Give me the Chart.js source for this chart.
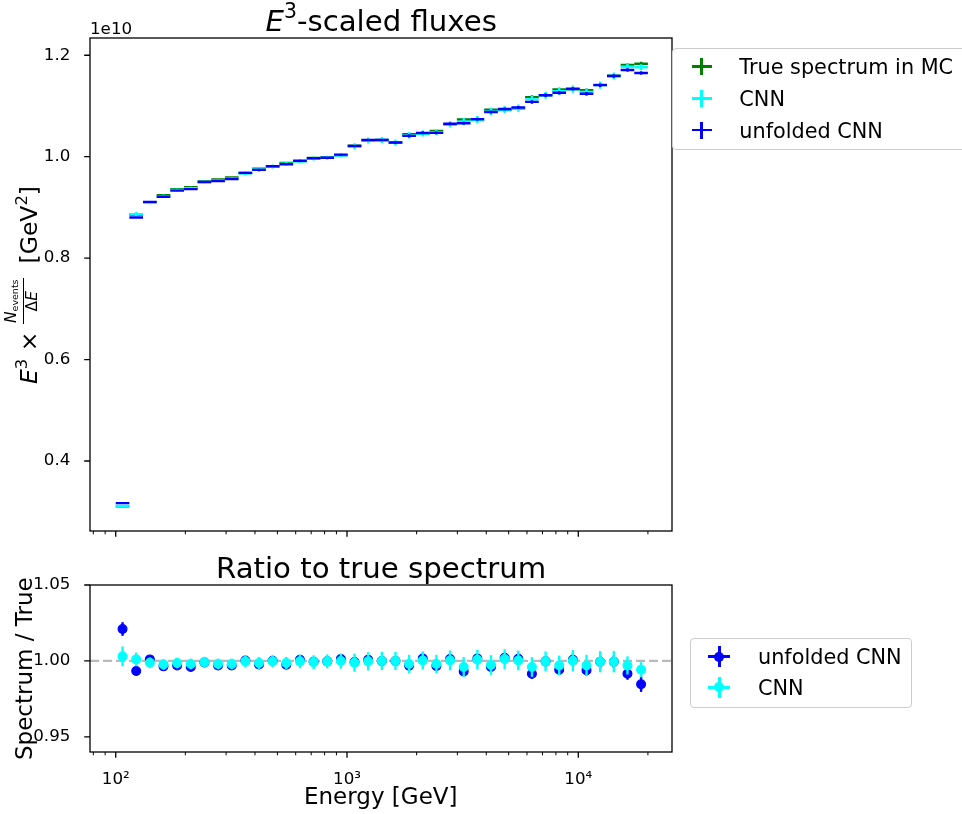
<!DOCTYPE html>
<html>
<head>
<meta charset="utf-8">
<script src="https://cdn.jsdelivr.net/npm/chart.js@4.4.1/dist/chart.umd.min.js"></script>
<style>
html,body{margin:0;padding:0;background:#fff;overflow:hidden;}
#wrap{position:relative;width:962px;height:814px;overflow:hidden;font-family:"DejaVu Sans",sans-serif;color:#000;}
canvas{position:absolute;left:0;}
.txt{position:absolute;white-space:nowrap;line-height:1;z-index:5;}
.legend{position:absolute;background:rgba(255,255,255,0.8);border:1px solid #cccccc;border-radius:4px;box-sizing:border-box;z-index:4;}
.bar{position:absolute;z-index:6;}
.dot{position:absolute;border-radius:50%;z-index:7;}
.frac{display:inline-block;text-align:center;vertical-align:baseline;}
.frac .num{display:block;font-size:15.5px;line-height:16px;border-bottom:1.3px solid #000;padding:0 1px;}
.frac .den{display:block;font-size:15.5px;line-height:16px;}
.frac .sub{font-size:9.5px;vertical-align:-2px;}
</style>
</head>
<body>
<div id="wrap">
  <canvas id="cTop" width="962" height="560" style="top:0px"></canvas>
  <canvas id="cBot" width="962" height="254" style="top:560px"></canvas>

  <div class="txt" data-x="381" data-b="31" data-align="center" style="font-size:29.2px"><i>E</i><span style="font-size:20.4px;vertical-align:13px">3</span>-scaled fluxes</div>
  <div class="txt" data-x="381" data-b="577.5" data-align="center" style="font-size:29.2px">Ratio to true spectrum</div>
  <div class="txt" data-x="90" data-b="34" style="font-size:16.7px">1e10</div>
  <div class="txt" data-x="381" data-b="804" data-align="center" style="font-size:23px">Energy [GeV]</div>
  <div class="txt" data-rot="1" data-x="36.5" data-c="284.5" style="font-size:23.5px"><i>E</i><span style="font-size:16.4px;vertical-align:10.5px">3</span> × <span class="frac"><span class="num"><i>N</i><span class="sub">events</span></span><span class="den">Δ<i>E</i></span></span>&nbsp; [GeV<span style="font-size:16.4px;vertical-align:10.5px">2</span>]</div>
  <div class="txt" data-rot="1" data-x="32" data-c="668.5" style="font-size:23px">Spectrum / True</div>

  <!-- top legend -->
  <div class="legend" style="left:672px;top:48px;width:320px;height:102px"></div>
  <div class="bar" style="left:691.7px;top:65.4px;width:20px;height:2.5px;background:#008000"></div>
  <div class="bar" style="left:700.4px;top:58.2px;width:2.5px;height:17px;background:#008000"></div>
  <div class="txt" data-x="739.3" data-b="74.3" style="font-size:20.8px">True spectrum in MC</div>
  <div class="bar" style="left:691.7px;top:97px;width:20px;height:2.5px;background:#00ffff"></div>
  <div class="bar" style="left:700.4px;top:89.8px;width:2.5px;height:17px;background:#00ffff"></div>
  <div class="txt" data-x="739.3" data-b="106" style="font-size:20.8px">CNN</div>
  <div class="bar" style="left:691.7px;top:128.7px;width:20px;height:2.5px;background:#0000ff"></div>
  <div class="bar" style="left:700.4px;top:121.5px;width:2.5px;height:17px;background:#0000ff"></div>
  <div class="txt" data-x="739.3" data-b="137.8" style="font-size:20.8px">unfolded CNN</div>

  <!-- bottom legend -->
  <div class="legend" style="left:690px;top:638px;width:222px;height:70px"></div>
  <div class="bar" style="left:708.3px;top:655.4px;width:22px;height:2.5px;background:#0000ff"></div>
  <div class="bar" style="left:718.1px;top:646.2px;width:2.5px;height:21px;background:#0000ff"></div>
  <div class="dot" style="left:714.4px;top:651.8px;width:9.8px;height:9.8px;background:#0000ff"></div>
  <div class="txt" data-x="758" data-b="664.3" style="font-size:20.8px">unfolded CNN</div>
  <div class="bar" style="left:708.3px;top:686px;width:22px;height:2.5px;background:#00ffff"></div>
  <div class="bar" style="left:718.1px;top:676.8px;width:2.5px;height:21px;background:#00ffff"></div>
  <div class="dot" style="left:714.4px;top:682.4px;width:9.8px;height:9.8px;background:#00ffff"></div>
  <div class="txt" data-x="758" data-b="695" style="font-size:20.8px">CNN</div>
</div>

<script>
// ---------- data ----------
const binEdges = [100, 114.55, 131.22, 150.32, 172.19, 197.25, 225.95, 258.83, 296.49, 339.64,
  389.05, 445.66, 510.51, 584.80, 669.90, 767.38, 879.06, 1006.96, 1153.48, 1321.34,
  1513.63, 1733.91, 1986.23, 2275.28, 2606.39, 2985.67, 3420.15, 3917.86, 4488.00, 5141.09,
  5889.22, 6746.27, 7728.02, 8852.64, 10140.9, 11616.6, 13307.1, 15243.6, 17461.9, 20000];

// E^3-scaled fluxes, in units of 1e10 GeV^2
const trueFlux = [0.3105, 0.8859, 0.910, 0.9243, 0.9358, 0.9398, 0.951, 0.9549, 0.9589, 0.9677,
  0.9762, 0.981, 0.9875, 0.9912, 0.9975, 0.9983, 1.0028, 1.0218, 1.0322, 1.033,
  1.028, 1.0442, 1.0453, 1.0506, 1.0637, 1.0734, 1.0723, 1.0924, 1.0918, 1.0955,
  1.1174, 1.1213, 1.1326, 1.1331, 1.131, 1.1416, 1.1596, 1.1809, 1.1832];
const cnnFlux = [0.3114, 0.8868, 0.909, 0.9222, 0.9345, 0.9379, 0.9502, 0.953, 0.957, 0.9674,
  0.9748, 0.9807, 0.9861, 0.9909, 0.9967, 0.998, 1.0027, 1.0206, 1.0319, 1.033,
  1.028, 1.0421, 1.0456, 1.0485, 1.064, 1.0691, 1.0732, 1.0894, 1.0931, 1.0958,
  1.1129, 1.121, 1.1292, 1.1332, 1.1276, 1.141, 1.159, 1.1774, 1.1763];
const unfoldedFlux = [0.317, 0.880, 0.911, 0.921, 0.933, 0.936, 0.950, 0.952, 0.956, 0.968,
  0.974, 0.981, 0.985, 0.992, 0.997, 0.998, 1.004, 1.021, 1.033, 1.033,
  1.028, 1.041, 1.047, 1.047, 1.065, 1.066, 1.074, 1.088, 1.094, 1.097,
  1.108, 1.121, 1.126, 1.134, 1.124, 1.141, 1.159, 1.171, 1.165];

const trueErr = [0.0015, 0.0015, 0.0015, 0.0015, 0.0015, 0.0015, 0.0015, 0.0015, 0.0015, 0.002,
  0.002, 0.002, 0.002, 0.002, 0.002, 0.002, 0.002, 0.002, 0.002, 0.002,
  0.003, 0.003, 0.003, 0.003, 0.003, 0.003, 0.003, 0.003, 0.003, 0.003,
  0.0035, 0.0035, 0.0035, 0.0035, 0.0035, 0.0035, 0.0035, 0.0035, 0.004];
const cnnErr = [0.002, 0.004, 0.003, 0.003, 0.003, 0.003, 0.003, 0.003, 0.003, 0.004,
  0.004, 0.004, 0.004, 0.004, 0.004, 0.004, 0.004, 0.006, 0.006, 0.006,
  0.006, 0.006, 0.006, 0.006, 0.006, 0.007, 0.007, 0.007, 0.007, 0.007,
  0.007, 0.007, 0.007, 0.007, 0.007, 0.007, 0.007, 0.007, 0.006];
const unfoldedErr = [0.0014, 0.002, 0.002, 0.002, 0.002, 0.002, 0.002, 0.002, 0.002, 0.002,
  0.0025, 0.0025, 0.0025, 0.0025, 0.0025, 0.0025, 0.0025, 0.0025, 0.0025, 0.0025,
  0.003, 0.003, 0.003, 0.003, 0.003, 0.003, 0.003, 0.003, 0.003, 0.003,
  0.0035, 0.0035, 0.0035, 0.0035, 0.0035, 0.0035, 0.0035, 0.0035, 0.0035];

// Ratios to the true spectrum
const ratioUnfolded = [1.021, 0.9933, 1.001, 0.9964, 0.997, 0.996, 0.999, 0.997, 0.997, 1.0003,
  0.9977, 1.0001, 0.9975, 1.0008, 0.9995, 0.9997, 1.0012, 0.9992, 1.0008, 1.000,
  1.000, 0.9969, 1.0016, 0.9966, 1.0012, 0.9931, 1.0016, 0.996, 1.002, 1.0014,
  0.9916, 0.9997, 0.9942, 1.0008, 0.9938, 0.9995, 0.9995, 0.9916, 0.9846];
const ratioCNN = [1.003, 1.001, 0.9988, 0.9977, 0.9986, 0.998, 0.9992, 0.998, 0.998, 0.9997,
  0.9986, 0.9997, 0.9986, 0.9997, 0.9992, 0.9997, 0.9999, 0.9988, 0.9997, 1.000,
  1.000, 0.998, 1.0003, 0.998, 1.0003, 0.996, 1.0008, 0.9973, 1.0012, 1.0003,
  0.996, 0.9997, 0.997, 1.0001, 0.997, 0.9995, 0.9995, 0.997, 0.9942];
const ratioUnfoldedErr = [0.0045, 0.002, 0.002, 0.002, 0.002, 0.002, 0.002, 0.002, 0.002, 0.002,
  0.0025, 0.0025, 0.0025, 0.0025, 0.0025, 0.0025, 0.0025, 0.0025, 0.0025, 0.003,
  0.003, 0.003, 0.003, 0.003, 0.003, 0.003, 0.003, 0.003, 0.003, 0.0035,
  0.0035, 0.0035, 0.0035, 0.0035, 0.0035, 0.004, 0.004, 0.004, 0.005];
const ratioCNNErr = [0.0065, 0.0045, 0.0035, 0.0035, 0.0035, 0.0035, 0.0035, 0.0035, 0.0035, 0.004,
  0.004, 0.004, 0.004, 0.0045, 0.0045, 0.0045, 0.005, 0.006, 0.006, 0.006,
  0.006, 0.006, 0.006, 0.006, 0.0065, 0.0065, 0.0065, 0.0065, 0.0065, 0.0065,
  0.0065, 0.0065, 0.0065, 0.007, 0.007, 0.007, 0.007, 0.006, 0.005];

const referenceLine = 1.0;

// axes ticks
const xLimits = [77.4, 25420];
const xMajorTicks = [100, 1000, 10000];
const xTickLabels = ['10²', '10³', '10⁴'];
const xMinorTicks = [80, 90, 200, 300, 400, 500, 600, 700, 800, 900,
  2000, 3000, 4000, 5000, 6000, 7000, 8000, 9000, 20000];
const yTopLimits = [0.262, 1.234];
const yTopTicks = [0.4, 0.6, 0.8, 1.0, 1.2];
const yBotLimits = [0.94, 1.05];
const yBotTicks = [0.95, 1.00, 1.05];

const COLORS = {true: '#008000', cnn: '#00ffff', unf: '#0000ff'};
const LW = 2.4;
const TICK_MAJ = 5.8, TICK_MIN = 3.3;

// ---------- helpers ----------
const binLo = binEdges.slice(0, -1);
const binHi = binEdges.slice(1);
const binCenters = binLo.map((lo, i) => Math.sqrt(lo * binHi[i]));
const pts = vals => vals.map((v, i) => ({x: binCenters[i], y: v}));

Chart.defaults.font.family = '"DejaVu Sans", sans-serif';
Chart.defaults.color = '#000';

const errBarPlugin = {
  id: 'errbars',
  beforeDatasetDraw(chart, args) {
    const ds = chart.data.datasets[args.index];
    if (!ds.yErr) return;
    const ctx = chart.ctx, xs = chart.scales.x, ys = chart.scales.y, a = chart.chartArea;
    ctx.save();
    ctx.beginPath(); ctx.rect(a.left, a.top, a.right - a.left, a.bottom - a.top); ctx.clip();
    ctx.strokeStyle = ds.errColor; ctx.lineWidth = LW; ctx.lineCap = 'butt';
    ds.data.forEach((p, i) => {
      const px = xs.getPixelForValue(p.x), py = ys.getPixelForValue(p.y);
      ctx.beginPath();
      if (ds.xLo) {
        ctx.moveTo(xs.getPixelForValue(ds.xLo[i]), py);
        ctx.lineTo(xs.getPixelForValue(ds.xHi[i]), py);
      }
      ctx.moveTo(px, ys.getPixelForValue(p.y - ds.yErr[i]));
      ctx.lineTo(px, ys.getPixelForValue(p.y + ds.yErr[i]));
      ctx.stroke();
    });
    ctx.restore();
  }
};

const framePlugin = {
  id: 'frame',
  afterDatasetsDraw(chart) {
    const ctx = chart.ctx, a = chart.chartArea, xs = chart.scales.x, ys = chart.scales.y;
    ctx.save();
    ctx.strokeStyle = '#000';
    ctx.lineWidth = 1.3;
    ctx.strokeRect(a.left, a.top, a.right - a.left, a.bottom - a.top);
    ctx.beginPath();
    xMajorTicks.forEach(v => { const p = xs.getPixelForValue(v); ctx.moveTo(p, a.bottom); ctx.lineTo(p, a.bottom + TICK_MAJ); });
    ys.ticks.forEach(t => { const p = ys.getPixelForValue(t.value); ctx.moveTo(a.left, p); ctx.lineTo(a.left - TICK_MAJ, p); });
    ctx.stroke();
    ctx.lineWidth = 1.0;
    ctx.beginPath();
    xMinorTicks.forEach(v => { const p = xs.getPixelForValue(v); ctx.moveTo(p, a.bottom); ctx.lineTo(p, a.bottom + TICK_MIN); });
    ctx.stroke();
    ctx.restore();
  }
};

function xScale(showLabels, height) {
  return {
    type: 'logarithmic', min: xLimits[0], max: xLimits[1],
    grid: {display: false}, border: {display: false},
    afterBuildTicks: s => { s.ticks = xMajorTicks.map(v => ({value: v, major: true})); },
    afterFit: s => { s.height = height; },
    ticks: {display: showLabels, autoSkip: false, maxRotation: 0, minRotation: 0, padding: 9.8,
      font: {size: 16.7}, color: '#000', callback: (v, i) => xTickLabels[i]}
  };
}
function yScale(lim, ticks, dec) {
  return {
    type: 'linear', min: lim[0], max: lim[1],
    grid: {display: false}, border: {display: false},
    afterBuildTicks: s => { s.ticks = ticks.map(v => ({value: v})); },
    afterFit: s => { s.width = 90; },
    ticks: {autoSkip: false, padding: 11.6, font: {size: 16.7}, color: '#000', callback: v => Number(v).toFixed(dec)}
  };
}

const fluxDs = (label, vals, errs, color, order) => ({
  label, data: pts(vals), yErr: errs, xLo: binLo, xHi: binHi, errColor: color,
  pointRadius: 0, pointHoverRadius: 0, showLine: false, borderColor: color, backgroundColor: color, order
});

new Chart(document.getElementById('cTop'), {
  type: 'scatter',
  data: {datasets: [
    fluxDs('True spectrum in MC', trueFlux, trueErr, COLORS.true, 3),
    fluxDs('CNN', cnnFlux, cnnErr, COLORS.cnn, 2),
    fluxDs('unfolded CNN', unfoldedFlux, unfoldedErr, COLORS.unf, 1)
  ]},
  options: {
    responsive: false, animation: false, events: [], devicePixelRatio: 1,
    layout: {padding: {top: 38, right: 290, left: 0, bottom: 0}},
    plugins: {legend: {display: false}, tooltip: {enabled: false}, title: {display: false}},
    scales: {x: xScale(false, 29), y: yScale(yTopLimits, yTopTicks, 1)}
  },
  plugins: [errBarPlugin, framePlugin]
});

const ratioDs = (label, vals, errs, color, order) => ({
  label, data: pts(vals), yErr: errs, errColor: color,
  pointRadius: 4.4, pointHoverRadius: 4.4, pointBorderWidth: 1.2, pointStyle: 'circle',
  borderColor: color, backgroundColor: color, showLine: false, order
});

new Chart(document.getElementById('cBot'), {
  type: 'scatter',
  data: {datasets: [
    {type: 'line', label: 'ref', data: [{x: xLimits[0], y: referenceLine}, {x: xLimits[1], y: referenceLine}],
     borderColor: 'rgba(128,128,128,0.55)', borderWidth: LW, borderDash: [9, 4], pointRadius: 0, order: 10},
    ratioDs('unfolded CNN', ratioUnfolded, ratioUnfoldedErr, COLORS.unf, 5),
    ratioDs('CNN', ratioCNN, ratioCNNErr, COLORS.cnn, 1)
  ]},
  options: {
    responsive: false, animation: false, events: [], devicePixelRatio: 1,
    layout: {padding: {top: 25, right: 290, left: 0, bottom: 0}},
    plugins: {legend: {display: false}, tooltip: {enabled: false}, title: {display: false}},
    scales: {x: xScale(true, 62), y: yScale(yBotLimits, yBotTicks, 2)}
  },
  plugins: [errBarPlugin, framePlugin]
});

// ---------- text placement ----------
function placeAll() {
  document.querySelectorAll('.txt').forEach(el => {
    const mk = document.createElement('span');
    mk.style.cssText = 'display:inline-block;width:0;height:0;vertical-align:baseline;';
    el.appendChild(mk);
    const b = mk.offsetTop;
    el.removeChild(mk);
    const w = el.offsetWidth;
    const x = parseFloat(el.dataset.x);
    if (el.dataset.rot) {
      const c = parseFloat(el.dataset.c);
      el.style.transformOrigin = '0 0';
      el.style.transform = 'rotate(-90deg)';
      el.style.left = (x - b) + 'px';
      el.style.top = (c + w / 2) + 'px';
    } else {
      const bl = parseFloat(el.dataset.b);
      el.style.left = (el.dataset.align === 'center' ? x - w / 2 : x) + 'px';
      el.style.top = (bl - b) + 'px';
    }
  });
}
placeAll();
</script>
</body>
</html>
